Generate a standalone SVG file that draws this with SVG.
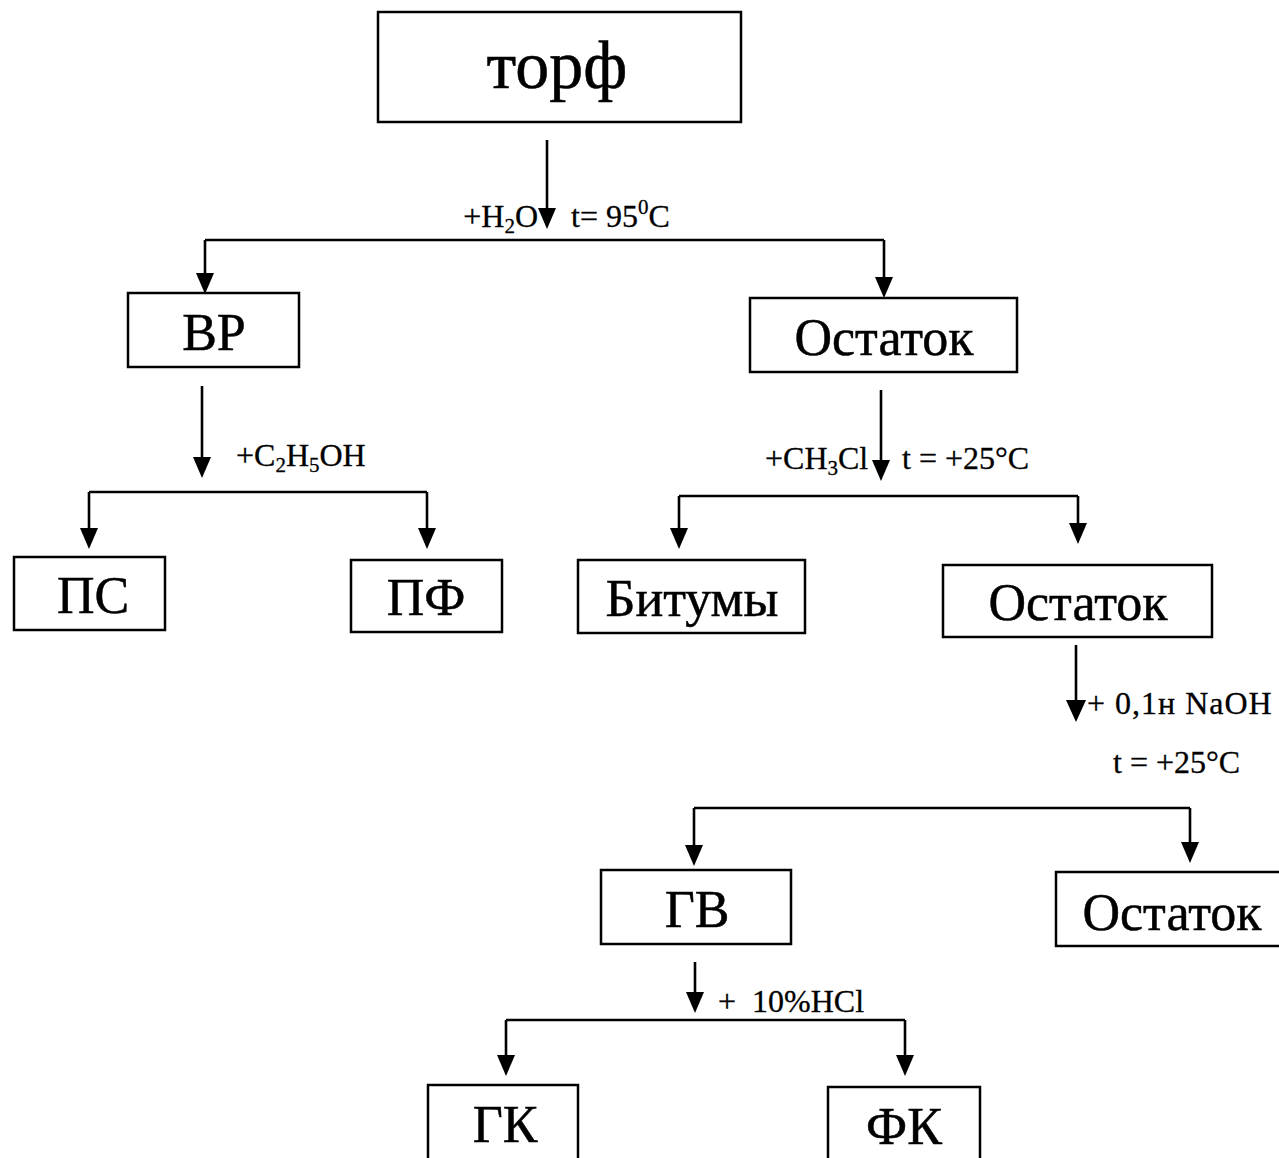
<svg xmlns="http://www.w3.org/2000/svg" width="1279" height="1158" viewBox="0 0 1279 1158">
<style>
.box{fill:#fff;stroke:#000;stroke-width:2.5}
.t{font-family:"Liberation Serif","Times New Roman",serif;fill:#000;stroke:#000;stroke-width:0.5;text-anchor:middle}
.n{font-size:52px}
.l{font-family:"Liberation Serif","Times New Roman",serif;fill:#000;stroke:#000;stroke-width:0.3;font-size:32px}
.c{fill:none;stroke:#000;stroke-width:2.6}
</style>
<rect width="1279" height="1158" fill="#fff"/>
<g id="connectors">
<path class="c" d="M547,140 V210"/><path d="M538,208 L556,208 L547,229 Z"/>
<path class="c" d="M205,240 H884"/>
<path class="c" d="M205,240 V275"/><path d="M196,273 L214,273 L205,294 Z"/>
<path class="c" d="M884,240 V279"/><path d="M875,277 L893,277 L884,298 Z"/>
<path class="c" d="M202,386 V459"/><path d="M193,457 L211,457 L202,478 Z"/>
<path class="c" d="M89,492 H427"/>
<path class="c" d="M89,492 V530"/><path d="M80,528 L98,528 L89,549 Z"/>
<path class="c" d="M427,492 V530"/><path d="M418,528 L436,528 L427,549 Z"/>
<path class="c" d="M881,390 V462"/><path d="M872,460 L890,460 L881,481 Z"/>
<path class="c" d="M679,496 H1078"/>
<path class="c" d="M679,496 V530"/><path d="M670,528 L688,528 L679,549 Z"/>
<path class="c" d="M1078,496 V525"/><path d="M1069,523 L1087,523 L1078,544 Z"/>
<path class="c" d="M1076,645 V702"/><path d="M1066,700 L1086,700 L1076,722 Z"/>
<path class="c" d="M694,808 H1190"/>
<path class="c" d="M694,808 V847"/><path d="M685,845 L703,845 L694,866 Z"/>
<path class="c" d="M1190,808 V844"/><path d="M1181,842 L1199,842 L1190,863 Z"/>
<path class="c" d="M695,962 V994"/><path d="M686,992 L704,992 L695,1013 Z"/>
<path class="c" d="M506,1020 H905"/>
<path class="c" d="M506,1020 V1057"/><path d="M497,1055 L515,1055 L506,1076 Z"/>
<path class="c" d="M905,1020 V1057"/><path d="M896,1055 L914,1055 L905,1076 Z"/>
</g>
<g id="labels">
<text class="l" x="538" y="227" text-anchor="end">+H<tspan font-size="21" dy="6">2</tspan><tspan dy="-6">O</tspan></text>
<text class="l" x="571" y="227">t= 95<tspan font-size="21" dy="-13">0</tspan><tspan dy="13">C</tspan></text>
<text class="l" x="236" y="466">+C<tspan font-size="21" dy="6">2</tspan><tspan dy="-6">H</tspan><tspan font-size="21" dy="6">5</tspan><tspan dy="-6">OH</tspan></text>
<text class="l" x="765" y="469">+CH<tspan font-size="21" dy="6">3</tspan><tspan dy="-6">Cl</tspan></text>
<text class="l" x="902" y="469">t = +25°C</text>
<text class="l" x="1087" y="714" letter-spacing="1">+ 0,1н NaOH</text>
<text class="l" x="1113" y="773">t = +25°C</text>
<text class="l" x="718" y="1012" xml:space="preserve">+  10%HCl</text>
</g>
<g id="n-torf"><rect class="box" x="378" y="12" width="363" height="110"/><text class="t" x="557" y="88" font-size="68">торф</text></g>
<g id="n-vr"><rect class="box" x="128" y="293" width="171" height="74"/><text class="t n" x="214" y="350">ВР</text></g>
<g id="n-ost1"><rect class="box" x="750" y="298" width="267" height="74"/><text class="t n" x="884" y="355">Остаток</text></g>
<g id="n-ps"><rect class="box" x="14" y="557" width="151" height="73"/><text class="t n" x="93" y="613">ПС</text></g>
<g id="n-pf"><rect class="box" x="351" y="560" width="151" height="72"/><text class="t n" x="426" y="615">ПФ</text></g>
<g id="n-bit"><rect class="box" x="578" y="560" width="227" height="73"/><text class="t n" x="692" y="616">Битумы</text></g>
<g id="n-ost2"><rect class="box" x="943" y="565" width="269" height="72"/><text class="t n" x="1078" y="620">Остаток</text></g>
<g id="n-gv"><rect class="box" x="601" y="870" width="190" height="74"/><text class="t n" x="697" y="927">ГВ</text></g>
<g id="n-ost3"><rect class="box" x="1056" y="872" width="240" height="74"/><text class="t n" x="1172" y="930">Остаток</text></g>
<g id="n-gk"><rect class="box" x="428" y="1085" width="150" height="90"/><text class="t n" x="505" y="1142">ГК</text></g>
<g id="n-fk"><rect class="box" x="828" y="1087" width="152" height="90"/><text class="t n" x="904" y="1144">ФК</text></g>
</svg>
